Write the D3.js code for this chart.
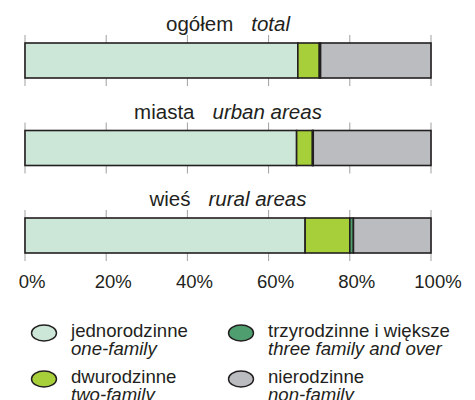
<!DOCTYPE html>
<html>
<head>
<meta charset="utf-8">
<script src="https://cdn.jsdelivr.net/npm/d3@7"></script>
<style>
  body { margin: 0; background: #fff; }
  text { font-family: "Liberation Sans", Arial, Helvetica, sans-serif; fill: #231f20; }
</style>
</head>
<body>
<div id="chart"></div>
<script>
// rows of the chart (Polish + English title)
var rowsPl = ["ogółem", "miasta", "wieś"];
var rowsEn = ["total", "urban areas", "rural areas"];

// shares in % : one-family, two-family, three family and over, non-family
var oneFamily = [67.2, 66.9, 69.0];
var twoFamily = [5.3, 3.9, 11.0];
var threeFamily = [0.3, 0.2, 0.9];
var nonFamily = [27.2, 29.0, 19.1];

var seriesPl = ["jednorodzinne", "dwurodzinne", "trzyrodzinne i większe", "nierodzinne"];
var seriesEn = ["one-family", "two-family", "three family and over", "non-family"];
var seriesColors = ["#cce7d7", "#a7cf3a", "#4f9e70", "#bbbcc0"];

var xTicks = [0, 20, 40, 60, 80, 100];

var width = 475, height = 400;

var svg = d3.select("#chart").append("svg")
  .attr("width", width)
  .attr("height", height);

var x = d3.scaleLinear().domain([0, 100]).range([25, 431]);
var y = d3.scaleBand().domain(rowsPl).range([43, 253]).paddingInner(0.6);

var values = [oneFamily, twoFamily, threeFamily, nonFamily];
var stacked = rowsPl.map(function(r, i) {
  var acc = 0;
  return values.map(function(s, k) {
    var seg = { row: r, k: k, x0: acc, x1: acc + s[i] };
    acc += s[i];
    return seg;
  });
});

// grid ticks above / below each bar
rowsPl.forEach(function(r) {
  svg.append("g").selectAll("line").data(xTicks).join("line")
    .attr("x1", function(d) { return x(d); })
    .attr("x2", function(d) { return x(d); })
    .attr("y1", y(r) - 8)
    .attr("y2", y(r) + y.bandwidth() + 8)
    .attr("stroke", "#a0a0a0")
    .attr("stroke-width", 1);
});

// row titles
var titles = svg.append("g").selectAll("text").data(rowsPl).join("text")
  .attr("x", (x.range()[0] + x.range()[1]) / 2)
  .attr("y", function(d) { return y(d) - 12; })
  .attr("text-anchor", "middle")
  .style("font-size", "20.5px");
titles.append("tspan").text(function(d) { return d; });
titles.append("tspan")
  .attr("dx", 18)
  .style("font-style", "italic")
  .text(function(d, i) { return rowsEn[i]; });

// bars
svg.append("g").selectAll("g").data(stacked).join("g")
  .selectAll("rect").data(function(d) { return d; }).join("rect")
  .attr("x", function(d) { return x(d.x0); })
  .attr("width", function(d) { return x(d.x1) - x(d.x0); })
  .attr("y", function(d) { return y(d.row); })
  .attr("height", y.bandwidth())
  .attr("fill", function(d) { return seriesColors[d.k]; })
  .attr("stroke", "#231f20")
  .attr("stroke-width", 1.6);

// x axis labels (number centred on tick)
svg.append("g").selectAll("text").data(xTicks).join("text")
  .attr("x", function(d) { return x(d) + 7; })
  .attr("y", 288)
  .attr("text-anchor", "middle")
  .style("font-size", "18.5px")
  .text(function(d) { return d + "%"; });

// legend
var legend = svg.append("g").selectAll("g").data(seriesPl).join("g")
  .attr("transform", function(d, i) {
    var col = i < 2 ? 0 : 1, row = i % 2;
    return "translate(" + (44 + col * 197) + "," + (333 + row * 46) + ")";
  });
legend.append("ellipse")
  .attr("rx", 12.5)
  .attr("ry", 8)
  .attr("fill", function(d, i) { return seriesColors[i]; })
  .attr("stroke", "#231f20")
  .attr("stroke-width", 1.4);
legend.append("text")
  .attr("x", 27)
  .attr("y", 4)
  .style("font-size", "18.6px")
  .text(function(d) { return d; });
legend.append("text")
  .attr("x", 27)
  .attr("y", 22)
  .style("font-size", "18.6px")
  .style("font-style", "italic")
  .text(function(d, i) { return seriesEn[i]; });
</script>
</body>
</html>
